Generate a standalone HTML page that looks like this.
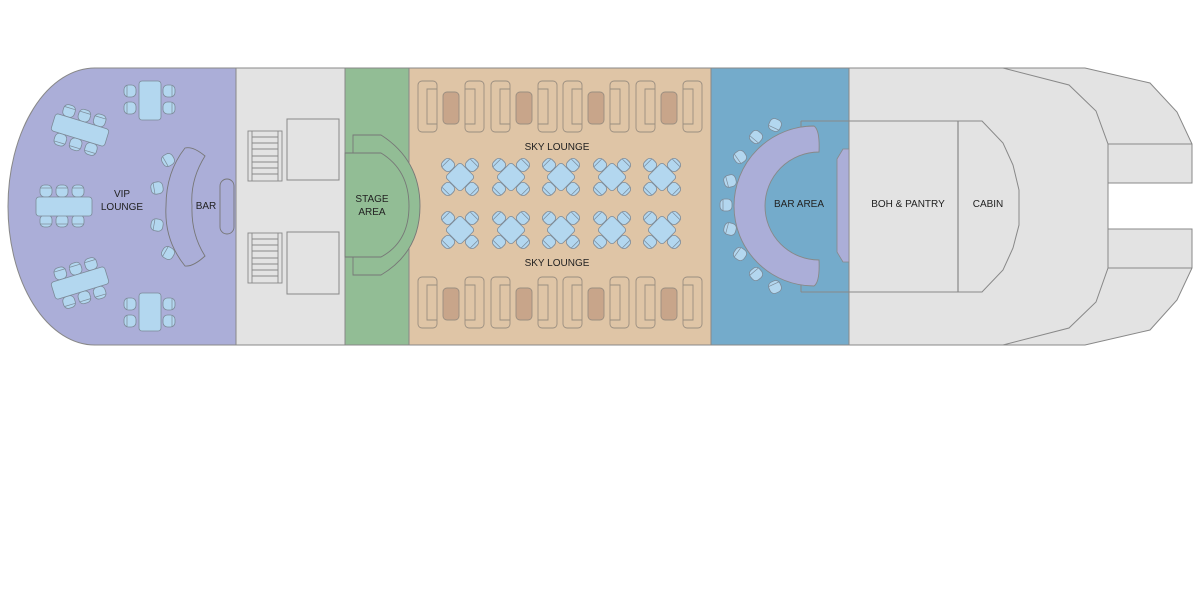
<!DOCTYPE html>
<html><head><meta charset="utf-8"><style>
html,body{margin:0;padding:0;background:#fff;width:1200px;height:600px;overflow:hidden}
text{font-family:"Liberation Sans","DejaVu Sans",sans-serif;font-size:10px;fill:#222}
</style></head><body>
<svg width="1200" height="600" viewBox="0 0 1200 600" xmlns="http://www.w3.org/2000/svg">
<defs>
  <g id="chair"><rect x="-6" y="-6" width="12" height="12" rx="4.5" fill="#b3d7ef" stroke="#7c8a98" stroke-width="0.8"/><path d="M-3,-5.5 V5.5" stroke="#7c8a98" stroke-width="0.7" fill="none"/></g>
  <g id="rt">
    <use href="#chair" transform="translate(-12,-12) rotate(45)"/>
    <use href="#chair" transform="translate(12,-12) rotate(135)"/>
    <use href="#chair" transform="translate(12,12) rotate(225)"/>
    <use href="#chair" transform="translate(-12,12) rotate(315)"/>
    <rect x="-10.5" y="-10.5" width="21" height="21" rx="3" transform="rotate(45)" fill="#b3d7ef" stroke="#7c8a98" stroke-width="0.8"/>
  </g>
  <g id="sofa" fill="none" stroke="#9a8e80" stroke-width="0.9">
    <rect x="0" y="0" width="19" height="51" rx="4"/>
    <path d="M19,8 H9 V43 H19"/>
    <rect x="25" y="11" width="16" height="32" rx="4" fill="#c8a58a" stroke="#9a8e80"/>
    <rect x="47" y="0" width="19" height="51" rx="4"/>
    <path d="M47,8 H57 V43 H47"/>
  </g>
  <g id="stairs" fill="none" stroke="#888" stroke-width="0.9">
    <rect x="0" y="0" width="34" height="50"/><path d="M4,0 V50"/>
    <path d="M4,6 H30 M4,12 H30 M4,18 H30 M4,25 H30 M4,31 H30 M4,37 H30 M4,43 H30 M30,0 V50"/>
  </g>
</defs>

<path d="M236,68 H95 A87,138.5 0 0 0 95,345 H236 Z" fill="#abaed8" stroke="#888" stroke-width="1"/>
<rect x="236" y="68" width="109" height="277" fill="#e3e3e3" stroke="#888"/>
<rect x="345" y="68" width="64" height="277" fill="#92bd95" stroke="#888"/>
<rect x="409" y="68" width="302" height="277" fill="#dfc5a6" stroke="#888"/>
<rect x="711" y="68" width="138" height="277" fill="#74abcb" stroke="#888"/>
<path d="M849,68 H1085 L1150,83 L1177,112 L1192,144 V183 H1108 V229 H1192 V268 L1177,300 L1150,330 L1085,345 H849 Z" fill="#e3e3e3" stroke="#888"/>
<path d="M1003,68 L1069,85 L1096,111 L1108,144 V268 L1096,302 L1069,328 L1003,345" fill="none" stroke="#888"/>
<path d="M1108,144 H1192 M1108,268 H1192" stroke="#888"/>
<path d="M801,121 H982 L1003,143 L1013,165 L1019,190 V225 L1013,248 L1003,270 L982,292 H801" fill="none" stroke="#888"/>
<path d="M958,121 V292" stroke="#888" stroke-width="1.2"/>
<path d="M801,121 V128 M801,292 V285" stroke="#888"/>
<text x="908" y="207" text-anchor="middle">BOH &amp; PANTRY</text>
<text x="988" y="207" text-anchor="middle">CABIN</text>

<path d="M843,149 L849,149 V262 L843,262 L837,252 V159 Z" fill="#abaed8" stroke="#888" stroke-width="0.8"/>
<path d="M814,126 A80,80 0 0 0 814,286 Q820,282 819,260 A52,52 0 1 1 819,152 Q820,130 814,126 Z" fill="#abaed8" stroke="#888" stroke-width="0.9"/>
<text x="799" y="207" text-anchor="middle">BAR AREA</text>
<use href="#chair" transform="translate(775,125) rotate(-65)"/>
<use href="#chair" transform="translate(756,137) rotate(-50)"/>
<use href="#chair" transform="translate(740,157) rotate(-35)"/>
<use href="#chair" transform="translate(730,181) rotate(-15)"/>
<use href="#chair" transform="translate(726,205) rotate(0)"/>
<use href="#chair" transform="translate(730,229) rotate(15)"/>
<use href="#chair" transform="translate(740,254) rotate(35)"/>
<use href="#chair" transform="translate(756,274) rotate(50)"/>
<use href="#chair" transform="translate(775,287) rotate(65)"/>

<use href="#sofa" transform="translate(418,81)"/>
<use href="#sofa" transform="translate(491,81)"/>
<use href="#sofa" transform="translate(563,81)"/>
<use href="#sofa" transform="translate(636,81)"/>
<use href="#sofa" transform="translate(418,277)"/>
<use href="#sofa" transform="translate(491,277)"/>
<use href="#sofa" transform="translate(563,277)"/>
<use href="#sofa" transform="translate(636,277)"/>
<use href="#rt" x="460" y="177"/><use href="#rt" x="511" y="177"/><use href="#rt" x="561" y="177"/><use href="#rt" x="612" y="177"/><use href="#rt" x="662" y="177"/>
<use href="#rt" x="460" y="230"/><use href="#rt" x="511" y="230"/><use href="#rt" x="561" y="230"/><use href="#rt" x="612" y="230"/><use href="#rt" x="662" y="230"/>
<text x="557" y="150" text-anchor="middle">SKY LOUNGE</text>
<text x="557" y="266" text-anchor="middle">SKY LOUNGE</text>

<path d="M353,135 H381 Q420,160 420,206 Q420,252 381,275 H353 V257 H345 V153 H353 Z" fill="#92bd95" stroke="#777" stroke-width="0.9"/>
<path d="M345,153 H381 Q409,170 409,206 Q409,242 381,257 H345" fill="none" stroke="#777" stroke-width="0.9"/>
<text x="372" y="202" text-anchor="middle">STAGE</text>
<text x="372" y="215" text-anchor="middle">AREA</text>

<use href="#stairs" transform="translate(248,131)"/>
<use href="#stairs" transform="translate(248,233)"/>
<rect x="287" y="119" width="52" height="61" fill="none" stroke="#888"/>
<rect x="287" y="232" width="52" height="62" fill="none" stroke="#888"/>

<g>
<use href="#chair" transform="translate(130,91)"/><use href="#chair" transform="translate(130,108)"/>
<use href="#chair" transform="translate(169,91) rotate(180)"/><use href="#chair" transform="translate(169,108) rotate(180)"/>
<rect x="139" y="81" width="22" height="39" rx="3" fill="#b3d7ef" stroke="#7c8a98" stroke-width="0.8"/>
<use href="#chair" transform="translate(130,304)"/><use href="#chair" transform="translate(130,321)"/>
<use href="#chair" transform="translate(169,304) rotate(180)"/><use href="#chair" transform="translate(169,321) rotate(180)"/>
<rect x="139" y="293" width="22" height="38" rx="3" fill="#b3d7ef" stroke="#7c8a98" stroke-width="0.8"/>
<g transform="translate(64,206)">
<use href="#chair" transform="translate(-18,-15) rotate(90)"/><use href="#chair" transform="translate(-2,-15) rotate(90)"/><use href="#chair" transform="translate(14,-15) rotate(90)"/>
<use href="#chair" transform="translate(-18,15) rotate(-90)"/><use href="#chair" transform="translate(-2,15) rotate(-90)"/><use href="#chair" transform="translate(14,15) rotate(-90)"/>
<rect x="-28" y="-9" width="56" height="19" rx="3" fill="#b3d7ef" stroke="#7c8a98" stroke-width="0.8"/>
</g>
<g transform="translate(80,130) rotate(17)">
<use href="#chair" transform="translate(-16,-15) rotate(90)"/><use href="#chair" transform="translate(0,-15) rotate(90)"/><use href="#chair" transform="translate(16,-15) rotate(90)"/>
<use href="#chair" transform="translate(-16,15) rotate(-90)"/><use href="#chair" transform="translate(0,15) rotate(-90)"/><use href="#chair" transform="translate(16,15) rotate(-90)"/>
<rect x="-28" y="-9" width="56" height="18" rx="3" fill="#b3d7ef" stroke="#7c8a98" stroke-width="0.8"/>
</g>
<g transform="translate(80,283) rotate(-17)">
<use href="#chair" transform="translate(-16,-15) rotate(90)"/><use href="#chair" transform="translate(0,-15) rotate(90)"/><use href="#chair" transform="translate(16,-15) rotate(90)"/>
<use href="#chair" transform="translate(-16,15) rotate(-90)"/><use href="#chair" transform="translate(0,15) rotate(-90)"/><use href="#chair" transform="translate(16,15) rotate(-90)"/>
<rect x="-28" y="-9" width="56" height="18" rx="3" fill="#b3d7ef" stroke="#7c8a98" stroke-width="0.8"/>
</g>
<use href="#chair" transform="translate(168,160) rotate(-30)"/>
<use href="#chair" transform="translate(157,188) rotate(-10)"/>
<use href="#chair" transform="translate(157,225) rotate(10)"/>
<use href="#chair" transform="translate(168,253) rotate(30)"/>
<path d="M185,148 Q193,146 205,156 Q190,180 192,206 Q191,234 205,256 Q193,267 185,266 Q164,240 166,206 Q166,172 185,148 Z" fill="#abaed8" stroke="#777" stroke-width="0.9"/>
<rect x="220" y="179" width="14" height="55" rx="7" fill="#abaed8" stroke="#777" stroke-width="0.9"/>
<text x="122" y="197" text-anchor="middle">VIP</text>
<text x="122" y="210" text-anchor="middle">LOUNGE</text>
<text x="206" y="209" text-anchor="middle">BAR</text>
</g>
</svg>
</body></html>
